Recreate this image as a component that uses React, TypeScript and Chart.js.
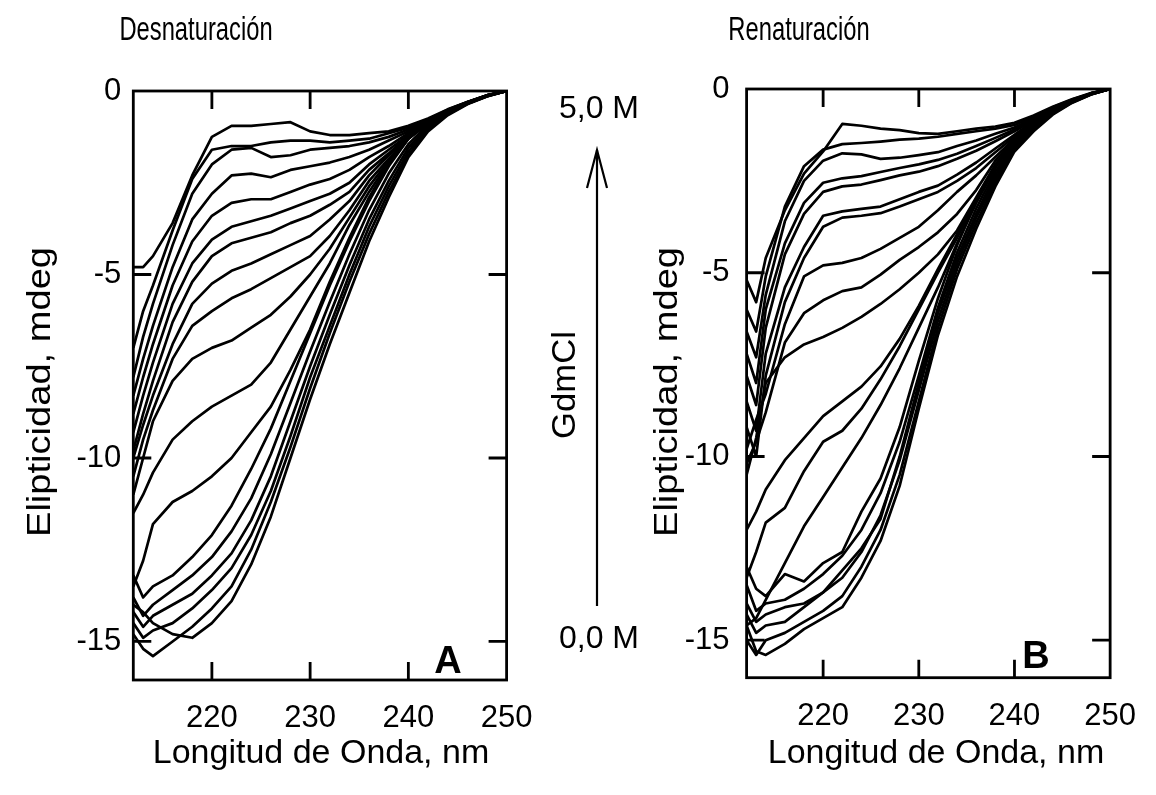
import React, { useEffect, useRef } from "react";
import { Chart, registerables } from "chart.js";

Chart.register(...registerables);

// ---------- data ----------
const WAVELENGTHS = [212, 213, 214, 216, 218, 220, 222, 224, 226, 228, 230, 232, 234, 236, 238, 240, 242, 244, 246, 248, 250];
const X_TICKS = [220, 230, 240, 250];
const Y_TICKS = [0, -5, -10, -15];

// Panel A: Desnaturación (top = 5,0 M ... bottom = 0,0 M)
const D01 = [-4.8, -4.8, -4.5, -3.6, -2.3, -1.25, -0.95, -0.95, -0.9, -0.85, -1.1, -1.2, -1.2, -1.15, -1.1, -0.95, -0.75, -0.5, -0.3, -0.12, 0];
const D02 = [-7.0, -6.0, -5.3, -3.8, -2.4, -1.6, -1.5, -1.5, -1.4, -1.35, -1.35, -1.4, -1.35, -1.3, -1.15, -1.0, -0.78, -0.51, -0.3, -0.12, 0];
const D03 = [-7.8, -6.7, -5.8, -4.2, -2.8, -2.0, -1.6, -1.55, -1.8, -1.75, -1.6, -1.55, -1.5, -1.4, -1.25, -1.05, -0.8, -0.52, -0.31, -0.12, 0];
const D04 = [-8.3, -7.3, -6.4, -4.8, -3.5, -2.8, -2.3, -2.25, -2.35, -2.15, -2.05, -1.95, -1.8, -1.6, -1.35, -1.1, -0.82, -0.53, -0.31, -0.12, 0];
const D05 = [-8.8, -7.8, -6.9, -5.3, -4.1, -3.4, -3.05, -2.95, -2.95, -2.75, -2.55, -2.4, -2.15, -1.8, -1.5, -1.15, -0.84, -0.54, -0.31, -0.12, 0];
const D06 = [-9.3, -8.3, -7.4, -5.8, -4.7, -4.05, -3.7, -3.55, -3.4, -3.2, -3.0, -2.8, -2.5, -2.0, -1.6, -1.2, -0.85, -0.54, -0.32, -0.12, 0];
const D07 = [-9.8, -8.8, -7.9, -6.3, -5.2, -4.5, -4.15, -4.0, -3.85, -3.6, -3.4, -3.1, -2.75, -2.15, -1.7, -1.22, -0.86, -0.55, -0.32, -0.13, 0];
const D08 = [-10.0, -9.1, -8.3, -6.9, -5.8, -5.25, -4.9, -4.7, -4.45, -4.2, -3.95, -3.5, -3.0, -2.3, -1.75, -1.25, -0.86, -0.55, -0.32, -0.13, 0];
const D09 = [-10.5, -9.5, -8.7, -7.3, -6.4, -6.0, -5.65, -5.4, -5.1, -4.8, -4.5, -3.95, -3.25, -2.45, -1.85, -1.27, -0.87, -0.55, -0.32, -0.13, 0];
const D10 = [-11.0, -10.0, -9.0, -7.9, -7.3, -7.0, -6.8, -6.45, -6.1, -5.6, -5.0, -4.3, -3.45, -2.6, -1.9, -1.28, -0.87, -0.56, -0.33, -0.13, 0];
const D11 = [-11.5, -11.0, -10.4, -9.5, -9.0, -8.6, -8.3, -8.0, -7.4, -6.5, -5.6, -4.7, -3.65, -2.75, -1.95, -1.3, -0.88, -0.56, -0.33, -0.13, 0];
const D12 = [-13.5, -12.8, -11.8, -11.2, -10.9, -10.5, -10.0, -9.3, -8.6, -7.6, -6.5, -5.2, -4.0, -2.9, -2.0, -1.3, -0.88, -0.56, -0.33, -0.13, 0];
const D13 = [-13.2, -13.8, -13.5, -13.2, -12.7, -12.1, -11.3, -10.3, -9.2, -7.9, -6.6, -5.3, -4.1, -3.0, -2.05, -1.3, -0.88, -0.56, -0.33, -0.13, 0];
const D14 = [-13.8, -14.3, -14.0, -13.6, -13.2, -12.7, -12.0, -11.1, -9.9, -8.5, -7.1, -5.75, -4.45, -3.25, -2.25, -1.45, -0.92, -0.58, -0.34, -0.13, 0];
const D15 = [-14.2, -14.6, -14.3, -14.0, -13.7, -13.2, -12.6, -11.7, -10.5, -9.0, -7.5, -6.1, -4.75, -3.5, -2.45, -1.55, -0.97, -0.6, -0.34, -0.14, 0];
const D16 = [-14.5, -14.9, -14.7, -14.5, -14.1, -13.6, -13.0, -12.1, -10.9, -9.4, -7.8, -6.4, -5.0, -3.7, -2.6, -1.65, -1.0, -0.62, -0.35, -0.14, 0];
const D17 = [-14.8, -15.2, -15.4, -15.0, -14.6, -14.1, -13.5, -12.5, -11.2, -9.7, -8.1, -6.6, -5.2, -3.9, -2.75, -1.75, -1.05, -0.64, -0.35, -0.14, 0];
const D18 = [-14.0, -14.2, -14.5, -14.8, -14.9, -14.5, -13.9, -12.9, -11.6, -10.0, -8.4, -6.9, -5.5, -4.1, -2.9, -1.8, -1.1, -0.66, -0.36, -0.15, 0];

// Panel B: Renaturación
const R01 = [-5.2, -5.8, -4.6, -3.3, -2.3, -1.7, -0.95, -1.0, -1.08, -1.12, -1.2, -1.22, -1.15, -1.08, -1.02, -0.92, -0.72, -0.48, -0.28, -0.11, 0];
const R02 = [-6.0, -6.6, -5.1, -3.2, -2.1, -1.65, -1.5, -1.47, -1.43, -1.38, -1.35, -1.3, -1.22, -1.15, -1.08, -0.98, -0.76, -0.5, -0.29, -0.12, 0];
const R03 = [-6.6, -7.3, -5.6, -3.6, -2.5, -1.95, -1.75, -1.78, -1.9, -1.87, -1.8, -1.72, -1.55, -1.4, -1.22, -1.05, -0.8, -0.52, -0.3, -0.12, 0];
const R04 = [-7.2, -8.0, -6.0, -4.2, -3.1, -2.55, -2.43, -2.37, -2.26, -2.15, -2.05, -1.93, -1.76, -1.55, -1.33, -1.1, -0.82, -0.53, -0.31, -0.12, 0];
const R05 = [-7.8, -8.6, -6.5, -4.5, -3.4, -2.8, -2.65, -2.6, -2.48, -2.35, -2.25, -2.1, -1.9, -1.68, -1.42, -1.15, -0.84, -0.54, -0.31, -0.12, 0];
const R06 = [-8.5, -9.3, -7.2, -5.4, -4.3, -3.45, -3.33, -3.26, -3.2, -3.0, -2.8, -2.63, -2.33, -2.0, -1.62, -1.25, -0.86, -0.55, -0.32, -0.12, 0];
const R07 = [-9.2, -10.0, -7.8, -5.8, -4.6, -3.75, -3.5, -3.45, -3.38, -3.2, -3.0, -2.8, -2.5, -2.15, -1.72, -1.3, -0.87, -0.55, -0.32, -0.13, 0];
const R08 = [-9.8, -9.0, -8.3, -6.4, -5.1, -4.8, -4.73, -4.6, -4.35, -4.05, -3.75, -3.3, -2.8, -2.35, -1.85, -1.35, -0.88, -0.56, -0.32, -0.13, 0];
const R09 = [-10.2, -9.6, -8.8, -6.9, -6.1, -5.75, -5.5, -5.4, -5.05, -4.65, -4.3, -3.9, -3.4, -2.75, -1.95, -1.38, -0.89, -0.56, -0.33, -0.13, 0];
const R10 = [-10.5, -9.5, -8.0, -7.3, -6.95, -6.75, -6.5, -6.2, -5.85, -5.45, -5.0, -4.5, -3.85, -2.95, -2.05, -1.4, -0.9, -0.57, -0.33, -0.13, 0];
const R11 = [-12.0, -11.5, -10.9, -10.1, -9.5, -8.9, -8.5, -8.1, -7.55, -6.8, -5.9, -4.9, -3.95, -3.0, -2.1, -1.4, -0.9, -0.57, -0.33, -0.13, 0];
const R12 = [-13.3, -12.6, -11.8, -11.4, -10.4, -9.6, -9.3, -8.7, -7.9, -7.0, -6.0, -5.0, -4.05, -3.02, -2.1, -1.4, -0.9, -0.57, -0.33, -0.13, 0];
const R13 = [-14.6, -14.4, -13.9, -12.9, -11.9, -11.1, -10.3, -9.5, -8.6, -7.6, -6.5, -5.4, -4.2, -3.1, -2.15, -1.42, -0.9, -0.57, -0.33, -0.13, 0];
const R14 = [-13.0, -13.6, -13.8, -13.2, -13.4, -12.9, -12.6, -11.5, -10.6, -9.2, -7.4, -5.7, -4.25, -3.05, -2.1, -1.4, -0.92, -0.58, -0.33, -0.13, 0];
const R15 = [-13.5, -14.2, -14.0, -13.9, -13.6, -13.2, -12.7, -12.0, -11.0, -9.6, -7.8, -5.95, -4.45, -3.25, -2.25, -1.48, -0.95, -0.6, -0.34, -0.13, 0];
const R16 = [-14.0, -14.5, -14.3, -14.1, -14.0, -13.7, -13.1, -12.5, -11.7, -10.0, -8.0, -6.1, -4.6, -3.4, -2.35, -1.55, -1.0, -0.62, -0.35, -0.14, 0];
const R17 = [-14.3, -14.8, -14.6, -14.5, -14.1, -13.7, -13.3, -12.6, -11.6, -10.1, -8.2, -6.3, -4.75, -3.5, -2.45, -1.6, -1.05, -0.64, -0.36, -0.14, 0];
const R18 = [-15.0, -15.4, -15.0, -14.8, -14.5, -14.2, -13.8, -13.0, -12.0, -10.5, -8.5, -6.5, -4.9, -3.65, -2.55, -1.65, -1.1, -0.67, -0.37, -0.15, 0];
const R19 = [-14.6, -15.3, -15.4, -15.1, -14.7, -14.4, -14.1, -13.3, -12.3, -10.8, -8.7, -6.7, -5.1, -3.8, -2.65, -1.7, -1.15, -0.7, -0.38, -0.15, 0];

const DESNAT_SERIES = [D01, D02, D03, D04, D05, D06, D07, D08, D09, D10, D11, D12, D13, D14, D15, D16, D17, D18];
const RENAT_SERIES = [R01, R02, R03, R04, R05, R06, R07, R08, R09, R10, R11, R12, R13, R14, R15, R16, R17, R18, R19];

// ---------- styling ----------
const FONT = "'Liberation Sans', Arial, Helvetica, sans-serif";

const framePlugin = {
  id: "frameTicks",
  afterDatasetsDraw(chart: any) {
    const { ctx, chartArea, scales } = chart;
    const { left, right, top, bottom } = chartArea;
    const L = 18;
    ctx.save();
    ctx.strokeStyle = "#000";
    ctx.lineWidth = 2.8;
    ctx.lineCap = "butt";
    ctx.strokeRect(left, top, right - left, bottom - top);
    ctx.beginPath();
    for (const v of X_TICKS) {
      if (v >= 250) continue;
      const px = scales.x.getPixelForValue(v);
      ctx.moveTo(px, bottom);
      ctx.lineTo(px, bottom - L);
      ctx.moveTo(px, top);
      ctx.lineTo(px, top + L);
    }
    for (const v of Y_TICKS) {
      if (v === 0) continue;
      const py = scales.y.getPixelForValue(v);
      ctx.moveTo(left, py);
      ctx.lineTo(left + L, py);
      ctx.moveTo(right, py);
      ctx.lineTo(right - L, py);
    }
    ctx.stroke();
    ctx.restore();
  },
};

type PanelProps = {
  series: number[][];
  left: number;
  width: number;
  pad: { left: number; right: number; top: number; bottom: number };
  yMin: number;
  yLabelPad: number;
};

function Panel({ series, left, width, pad, yMin, yLabelPad }: PanelProps) {
  const ref = useRef<HTMLCanvasElement | null>(null);
  useEffect(() => {
    if (!ref.current) return;
    const chart = new Chart(ref.current, {
      type: "line",
      data: {
        datasets: series.map((s, i) => ({
          label: "c" + i,
          data: WAVELENGTHS.map((w, j) => ({ x: w, y: s[j] })),
          borderColor: "#000",
          borderWidth: 2.7,
          borderJoinStyle: "round",
          pointRadius: 0,
          tension: 0,
          fill: false,
        })),
      },
      options: {
        responsive: false,
        animation: false,
        devicePixelRatio: 1,
        layout: { padding: pad },
        plugins: {
          legend: { display: false },
          tooltip: { enabled: false },
        },
        scales: {
          x: {
            type: "linear",
            min: 212,
            max: 250,
            afterBuildTicks: (s: any) => {
              s.ticks = X_TICKS.map((v) => ({ value: v }));
            },
            afterFit: (s: any) => {
              s.height = 80;
            },
            grid: { display: false, drawTicks: false },
            border: { display: false },
            ticks: {
              color: "#000",
              font: { family: FONT, size: 31 },
              padding: 20,
              maxRotation: 0,
              autoSkip: false,
              callback: (v: any) => String(v),
            },
          },
          y: {
            type: "linear",
            min: yMin,
            max: 0,
            afterBuildTicks: (s: any) => {
              s.ticks = Y_TICKS.map((v) => ({ value: v }));
            },
            afterFit: (s: any) => {
              s.width = 100;
            },
            grid: { display: false, drawTicks: false },
            border: { display: false },
            ticks: {
              color: "#000",
              font: { family: FONT, size: 31 },
              padding: yLabelPad,
              autoSkip: false,
              callback: (v: any) => String(v),
            },
          },
        },
      } as any,
      plugins: [framePlugin],
    });
    return () => chart.destroy();
  }, []);
  return (
    <canvas
      ref={ref}
      width={width}
      height={795}
      style={{ position: "absolute", left, top: 0, width, height: 795 }}
    />
  );
}

type LabelProps = {
  x: number;
  y: number;
  text: string;
  size: number;
  rotate?: number;
  bold?: boolean;
  sx?: number;
};

function Label({ x, y, text, size, rotate = 0, bold = false, sx = 1 }: LabelProps) {
  return (
    <div
      style={{
        position: "absolute",
        left: x,
        top: y,
        transform: `translate(-50%, -50%) rotate(${rotate}deg) scale(${sx}, 1)`,
        fontFamily: FONT,
        fontSize: size,
        lineHeight: 1,
        whiteSpace: "nowrap",
        fontWeight: bold ? "bold" : "normal",
        color: "#000",
      }}
    >
      {text}
    </div>
  );
}

export default function App() {
  return (
    <div
      style={{
        position: "absolute",
        left: 0,
        top: 0,
        width: 1156,
        height: 795,
        background: "#fff",
        overflow: "hidden",
      }}
    >
      <Panel
        series={DESNAT_SERIES}
        left={0}
        width={560}
        pad={{ left: 33.3, right: 53.4, top: 91, bottom: 35 }}
        yMin={-16.05}
        yLabelPad={12}
      />
      <Panel
        series={RENAT_SERIES}
        left={580}
        width={576}
        pad={{ left: 66.6, right: 36.6, top: 89, bottom: 37.3 }}
        yMin={-16.02}
        yLabelPad={17}
      />

      <Label x={196} y={28} text="Desnaturación" size={33} sx={0.72} />
      <Label x={799} y={28} text="Renaturación" size={33} sx={0.72} />

      <Label x={38} y={392} text="Elipticidad, mdeg" size={34} rotate={-90} sx={1.12} />
      <Label x={665} y={392} text="Elipticidad, mdeg" size={34} rotate={-90} sx={1.12} />

      <Label x={321} y={751} text="Longitud de Onda, nm" size={34} />
      <Label x={936} y={751} text="Longitud de Onda, nm" size={34} />

      <Label x={599} y={107} text="5,0 M" size={32} />
      <Label x={599} y={637} text="0,0 M" size={32} />
      <Label x={563} y={385} text="GdmCl" size={33} rotate={-90} sx={1.05} />

      <svg
        width={60}
        height={480}
        style={{ position: "absolute", left: 567, top: 140 }}
      >
        <line x1={30} y1={10} x2={30} y2={466} stroke="#000" strokeWidth={2.2} />
        <polyline points="20,48 30,10 40,48" fill="none" stroke="#000" strokeWidth={2.2} />
      </svg>

      <Label x={448} y={660} text="A" size={38} bold />
      <Label x={1036} y={655} text="B" size={38} bold />
    </div>
  );
}
